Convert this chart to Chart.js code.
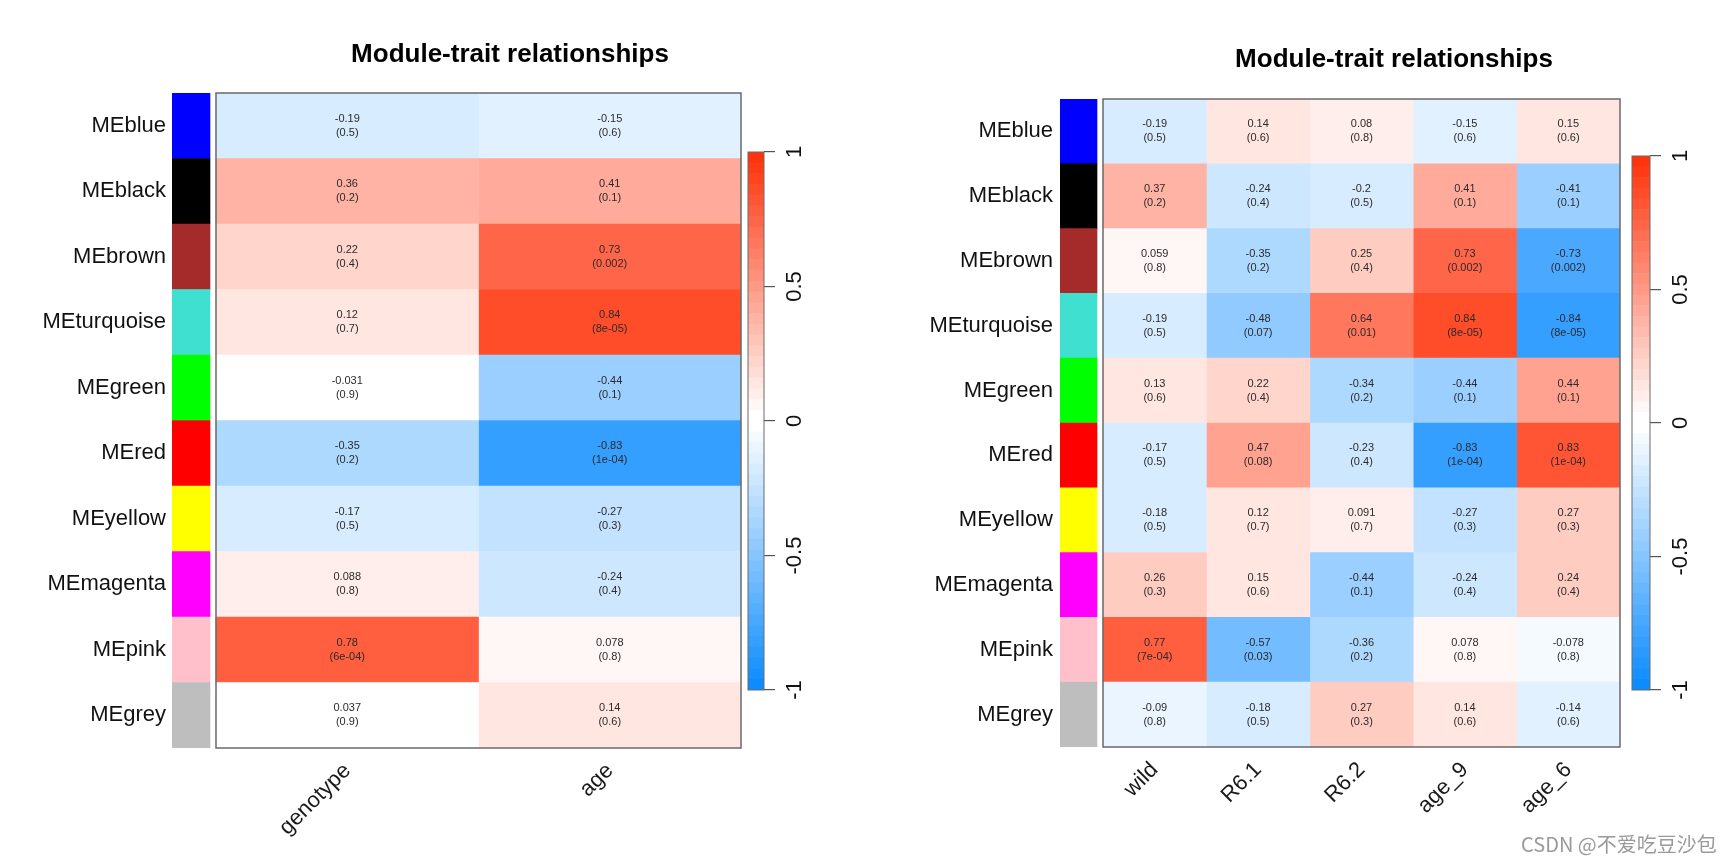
<!DOCTYPE html>
<html>
<head>
<meta charset="utf-8">
<script src="https://cdn.jsdelivr.net/npm/chart.js@4.4.1/dist/chart.umd.min.js"></script>
<style>
  html, body { margin: 0; padding: 0; background: #fff; width: 1728px; height: 864px; overflow: hidden; }
  canvas { position: absolute; top: 0; }
  #mark { position: absolute; left: 1521px; top: 829px; font: 20px "Noto Sans CJK SC", sans-serif; color: #9a9a9a; }
</style>
</head>
<body>
<canvas id="heatA" width="760" height="864" style="left:0px"></canvas>
<canvas id="barA" width="90" height="864" style="left:740px"></canvas>
<canvas id="heatB" width="760" height="864" style="left:880px"></canvas>
<canvas id="barB" width="92" height="864" style="left:1624px"></canvas>
<div id="mark">CSDN @不爱吃豆沙包</div>
<script>
// ========
// Data
// ========
const modules = ["MEblue", "MEblack", "MEbrown", "MEturquoise", "MEgreen", "MEred", "MEyellow", "MEmagenta", "MEpink", "MEgrey"];
const moduleColors = ["#0000FF", "#000000", "#A52A2A", "#40E0D0", "#00FF00", "#FF0000", "#FFFF00", "#FF00FF", "#FFC0CB", "#BEBEBE"];

// left panel
const traitsA = ["genotype", "age"];
const genotypeCor = [-0.19, 0.36, 0.22, 0.12, -0.031, -0.35, -0.17, 0.088, 0.78, 0.037];
const genotypeP = ["0.5", "0.2", "0.4", "0.7", "0.9", "0.2", "0.5", "0.8", "6e-04", "0.9"];
const ageCor = [-0.15, 0.41, 0.73, 0.84, -0.44, -0.83, -0.27, -0.24, 0.078, 0.14];
const ageP = ["0.6", "0.1", "0.002", "8e-05", "0.1", "1e-04", "0.3", "0.4", "0.8", "0.6"];

// right panel
const traitsB = ["wild", "R6.1", "R6.2", "age_9", "age_6"];
const wildCor = [-0.19, 0.37, 0.059, -0.19, 0.13, -0.17, -0.18, 0.26, 0.77, -0.09];
const wildP = ["0.5", "0.2", "0.8", "0.5", "0.6", "0.5", "0.5", "0.3", "7e-04", "0.8"];
const r61Cor = [0.14, -0.24, -0.35, -0.48, 0.22, 0.47, 0.12, 0.15, -0.57, -0.18];
const r61P = ["0.6", "0.4", "0.2", "0.07", "0.4", "0.08", "0.7", "0.6", "0.03", "0.5"];
const r62Cor = [0.08, -0.2, 0.25, 0.64, -0.34, -0.23, 0.091, -0.44, -0.36, 0.27];
const r62P = ["0.8", "0.5", "0.4", "0.01", "0.2", "0.4", "0.7", "0.1", "0.2", "0.3"];
const age9Cor = [-0.15, 0.41, 0.73, 0.84, -0.44, -0.83, -0.27, -0.24, 0.078, 0.14];
const age9P = ["0.6", "0.1", "0.002", "8e-05", "0.1", "1e-04", "0.3", "0.4", "0.8", "0.6"];
const age6Cor = [0.15, -0.41, -0.73, -0.84, 0.44, 0.83, 0.27, 0.24, -0.078, -0.14];
const age6P = ["0.6", "0.1", "0.002", "8e-05", "0.1", "1e-04", "0.3", "0.4", "0.8", "0.6"];

const colorbarTicks = [-1, -0.5, 0, 0.5, 1];

Chart.defaults.font.family = '"Liberation Sans", Arial, Helvetica, sans-serif';

// ===========================
// blue-white-red, 50 bins
// ===========================
const blueEnd = [13, 140, 255];
const redEnd = [255, 51, 12];

function binColor(k) {
    const end = k < 25 ? blueEnd : redEnd;
    const f = k < 25 ? (24 - k) / 24 : (k - 25) / 24;
    const c = end.map(e => Math.round(255 + (e - 255) * f));
    return `rgb(${c.join(",")})`;
}

function zColor(v) {
    const k = Math.max(0, Math.min(49, Math.floor((v + 1) / 2 * 50)));
    return binColor(k);
}

// ===========
// Plugins
// ===========

// correlation + p-value printed in the middle of each cell
const cellText = {
    id: "cellText",
    afterDatasetsDraw(chart) {
        const ctx = chart.ctx;
        ctx.save();
        ctx.font = '11px "Liberation Sans", Arial, sans-serif';
        ctx.fillStyle = "#2b2b2b";
        ctx.textAlign = "center";
        ctx.textBaseline = "middle";
        chart.data.datasets.forEach((d, j) => {
            if (!d.cor) return;
            chart.getDatasetMeta(j).data.forEach((bar, i) => {
                const cx = (bar.x + bar.base) / 2;
                ctx.fillText(String(d.cor[i]), cx, bar.y - 7);
                ctx.fillText("(" + d.p[i] + ")", cx, bar.y + 7);
            });
        });
        ctx.restore();
    }
};

// thin grey box around the cells
const frame = {
    id: "frame",
    afterDraw(chart, args, opts) {
        const { ctx, chartArea: a } = chart;
        const x = chart.scales.x;
        const l = opts.from !== undefined ? x.getPixelForValue(opts.from) : a.left;
        const r = opts.to !== undefined ? x.getPixelForValue(opts.to) : a.right;
        ctx.save();
        ctx.strokeStyle = opts.color || "#666";
        ctx.lineWidth = opts.width || 1;
        ctx.strokeRect(l, a.top, r - l, a.bottom - a.top);
        ctx.restore();
    }
};

const panelTitle = {
    id: "panelTitle",
    afterDraw(chart, args, opts) {
        const ctx = chart.ctx;
        ctx.save();
        ctx.font = 'bold 26px "Liberation Sans", Arial, sans-serif';
        ctx.fillStyle = "#000";
        ctx.textAlign = "center";
        ctx.textBaseline = "middle";
        ctx.fillText(opts.text, opts.x, opts.y);
        ctx.restore();
    }
};

// ===================
// Heatmap builder
// ===================
function heatmap(id, g) {
    const canvas = document.getElementById(id);
    const n = g.traits.length;
    const cellPx = (g.right - g.heatLeft) / n;
    const stripFrom = -(g.heatLeft - g.stripLeft) / cellPx;
    const stripTo = -(g.heatLeft - g.stripRight) / cellPx;

    // module colour strip first, then one dataset per trait column
    const datasets = [{
        data: modules.map(() => [stripFrom, stripTo]),
        backgroundColor: moduleColors
    }];
    g.cols.forEach((c, j) => datasets.push({
        data: modules.map(() => [j, j + 1]),
        backgroundColor: c.cor.map(zColor),
        cor: c.cor,
        p: c.p
    }));
    datasets.forEach(d => Object.assign(d, {
        barPercentage: 1, categoryPercentage: 1, grouped: false, borderWidth: 0
    }));

    return new Chart(canvas, {
        type: "bar",
        data: { labels: modules, datasets },
        options: {
            indexAxis: "y",
            responsive: false,
            animation: false,
            layout: { padding: { top: g.top, bottom: 0, left: 0, right: canvas.width - (g.right - g.canvasLeft) } },
            plugins: {
                legend: { display: false },
                tooltip: { enabled: false },
                frame: { from: 0, to: n, color: "#6a6a6a", width: 1.5 },
                panelTitle: { text: "Module-trait relationships", x: g.titleX - g.canvasLeft, y: g.titleY }
            },
            scales: {
                x: {
                    type: "linear",
                    min: stripFrom,
                    max: n,
                    grid: { display: false, drawTicks: false },
                    border: { display: false },
                    afterBuildTicks: s => { s.ticks = g.traits.map((t, i) => ({ value: i + 0.5 })); },
                    afterFit: s => { s.height = canvas.height - g.bottom; },
                    ticks: {
                        autoSkip: false,
                        minRotation: 45,
                        maxRotation: 45,
                        padding: 10,
                        font: { size: 22 },
                        color: "#1a1a1a",
                        callback: (v, i) => g.traits[i]
                    }
                },
                y: {
                    grid: { display: false, drawTicks: false },
                    border: { display: false },
                    afterFit: s => { s.width = g.stripLeft - g.canvasLeft; },
                    ticks: { font: { size: 22 }, color: "#111", padding: g.labelGap }
                }
            }
        },
        plugins: [cellText, frame, panelTitle]
    });
}

// ===================
// Colour key builder
// ===================
function colorbar(id, g) {
    const canvas = document.getElementById(id);
    const bins = Array.from({ length: 50 }, (_, k) => 49 - k);   // top bin first
    return new Chart(canvas, {
        type: "bar",
        data: {
            labels: bins.map(String),
            datasets: [{
                data: bins.map(() => [0, 1]),
                backgroundColor: bins.map(binColor),
                barPercentage: 1, categoryPercentage: 1, borderWidth: 0
            }]
        },
        options: {
            indexAxis: "y",
            responsive: false,
            animation: false,
            layout: { padding: { left: 8, right: 0, top: g.top, bottom: canvas.height - g.bottom } },
            plugins: {
                legend: { display: false },
                tooltip: { enabled: false },
                frame: { color: "#6a6a6a", width: 1 }
            },
            scales: {
                x: { type: "linear", min: 0, max: 1, display: false },
                y: { display: false },
                yr: {
                    type: "linear",
                    axis: "y",
                    position: "right",
                    min: -1,
                    max: 1,
                    offset: false,
                    afterBuildTicks: s => { s.ticks = colorbarTicks.map(v => ({ value: v })); },
                    afterFit: s => { s.width = canvas.width - 8 - g.barWidth; },
                    grid: { offset: false, drawOnChartArea: false, drawTicks: true, tickLength: 11, color: "#555", lineWidth: 1.2 },
                    border: { display: false },
                    ticks: {
                        minRotation: 90,
                        maxRotation: 90,
                        crossAlign: "center",
                        padding: 1,
                        font: { size: 22 },
                        color: "#111",
                        callback: v => String(v)
                    }
                }
            }
        },
        plugins: [frame]
    });
}

// ==============
// Left panel
// ==============
heatmap("heatA", {
    traits: traitsA,
    cols: [{ cor: genotypeCor, p: genotypeP }, { cor: ageCor, p: ageP }],
    canvasLeft: 0, stripLeft: 172, stripRight: 210, heatLeft: 216, right: 741,
    top: 93, bottom: 748, labelGap: 6, titleX: 510, titleY: 55
});
colorbar("barA", { top: 152, bottom: 690, barWidth: 16 });

// ==============
// Right panel
// ==============
heatmap("heatB", {
    traits: traitsB,
    cols: [
        { cor: wildCor, p: wildP },
        { cor: r61Cor, p: r61P },
        { cor: r62Cor, p: r62P },
        { cor: age9Cor, p: age9P },
        { cor: age6Cor, p: age6P }
    ],
    canvasLeft: 880, stripLeft: 1060, stripRight: 1097, heatLeft: 1103, right: 1620,
    top: 99, bottom: 747, labelGap: 7, titleX: 1394, titleY: 60
});
colorbar("barB", { top: 156, bottom: 690, barWidth: 18 });
</script>
</body>
</html>
